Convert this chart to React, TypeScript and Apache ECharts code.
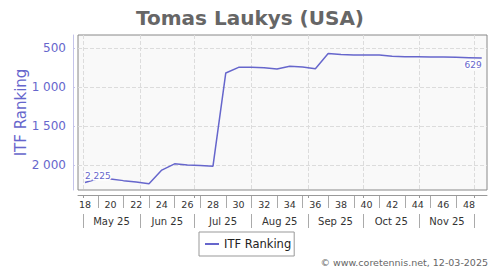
import React, { useEffect, useRef } from 'react';
import * as echarts from 'echarts';

const weeks = [18, 19, 20, 21, 22, 23, 24, 25, 26, 27, 28, 29, 30, 31, 32, 33, 34, 35, 36, 37, 38, 39, 40, 41, 42, 43, 44, 45, 46, 47, 48, 49];
const ranking = [2225, 2175, 2180, 2200, 2218, 2240, 2065, 1985, 2000, 2005, 2015, 821, 749, 749, 753, 770, 736, 744, 766, 573, 586, 590, 590, 590, 608, 612, 612, 616, 618, 621, 625, 629];
const weekLabels = [18, 20, 22, 24, 26, 28, 30, 32, 34, 36, 38, 40, 42, 44, 46, 48];
const weekSeparators = [19, 21, 23, 25, 27, 29, 31, 33, 35, 37, 39, 41, 43, 45, 47];
const monthStarts = ['2025-05-01', '2025-06-01', '2025-07-01', '2025-08-01', '2025-09-01', '2025-10-01', '2025-11-01', '2025-12-01'];
const monthLabels = ['May 25', 'Jun 25', 'Jul 25', 'Aug 25', 'Sep 25', 'Oct 25', 'Nov 25'];
const yTicks = [500, 1000, 1500, 2000];
const firstWeekDate = '2025-05-02';

const FONT = 'DejaVu Sans';
const PURPLE = '#6666cc';

const fmt = (v: number) => String(Math.round(v)).replace(/\B(?=(\d{3})+(?!\d))/g, ' ');

export default function App() {
  const ref = useRef<HTMLDivElement>(null);
  useEffect(() => {
    if (!ref.current) return;
    document.body.style.margin = '0';
    const chart = echarts.init(ref.current, undefined, { renderer: 'svg' });
    const refT = Date.parse(firstWeekDate + 'T00:00:00Z');
    const monthX = monthStarts.map((d) => weeks[0] + (Date.parse(d + 'T00:00:00Z') - refT) / (7 * 864e5));
    const monthMid = monthLabels.map((_, i) => (monthX[i] + monthX[i + 1]) / 2);
    const xMin = 17.453;
    const xMax = 49.41;
    const last = weeks.length - 1;
    const data = weeks.map((w, i) => {
      const item: any = { value: [w, ranking[i]] };
      if (i === 0) item.label = { show: true, position: 'top', align: 'left', distance: 2 };
      if (i === last) item.label = { show: true, position: 'bottom', align: 'right', distance: 3 };
      return item;
    });
    const baseX = { type: 'value', min: xMin, max: xMax, position: 'bottom', gridIndex: 0 };
    chart.setOption({
      animation: false,
      textStyle: { fontFamily: FONT },
      title: {
        text: 'Tomas Laukys (USA)',
        left: 'center',
        top: 3,
        textStyle: { fontSize: 20, fontWeight: 'bold', color: '#666', fontFamily: FONT },
      },
      grid: {
        left: 78,
        right: 13,
        top: 35,
        bottom: 80,
        show: true,
        backgroundColor: '#f9f9f9',
        borderColor: '#888',
        borderWidth: 1,
      },
      legend: {
        left: 199,
        top: 232,
        data: ['ITF Ranking'],
        icon: 'rect',
        itemWidth: 14,
        itemHeight: 2,
        itemGap: 5,
        padding: [6, 3, 6, 6],
        borderColor: '#999',
        borderWidth: 1,
        textStyle: { fontSize: 11.5, color: '#222', fontFamily: FONT },
      },
      xAxis: [
        {
          ...baseX,
          offset: 5,
          axisLine: { show: true, lineStyle: { color: '#999' } },
          axisTick: { show: true, length: 3, customValues: monthX, lineStyle: { color: '#999' } },
          axisLabel: { show: false },
          splitLine: { show: true, lineStyle: { type: 'dashed', color: '#dcdcdc' } },
        },
        {
          ...baseX,
          offset: 6,
          axisLine: { show: false },
          axisTick: { show: true, length: 12, customValues: weekSeparators, lineStyle: { color: '#aaa' } },
          axisLabel: { customValues: weekLabels, margin: 3, fontSize: 9.5, color: '#333', fontFamily: FONT, formatter: (v: number) => String(Math.round(v)) },
          splitLine: { show: false },
        },
        {
          ...baseX,
          offset: 24,
          axisLine: { show: false },
          axisTick: { show: true, length: 14, customValues: monthX, lineStyle: { color: '#aaa' } },
          axisLabel: {
            customValues: monthMid,
            margin: 2,
            fontSize: 10,
            color: '#333',
            fontFamily: FONT,
            formatter: (v: number) => {
              let best = 0;
              monthMid.forEach((m, i) => { if (Math.abs(m - v) < Math.abs(monthMid[best] - v)) best = i; });
              return monthLabels[best];
            },
          },
          splitLine: { show: false },
        },
      ],
      yAxis: {
        type: 'value',
        inverse: true,
        min: 335,
        max: 2320,
        offset: 5,
        name: 'ITF Ranking',
        nameLocation: 'middle',
        nameGap: 45,
        nameMoveOverlap: false,
        nameTextStyle: { color: PURPLE, fontSize: 15, fontFamily: FONT },
        axisLine: { show: true, lineStyle: { color: '#c4c4ea' } },
        axisTick: { show: true, inside: true, length: 2, customValues: yTicks, lineStyle: { color: '#c4c4ea' } },
        axisLabel: { customValues: yTicks, formatter: fmt, color: PURPLE, fontSize: 12, margin: 7, fontFamily: FONT },
        splitLine: { show: true, lineStyle: { type: 'dashed', color: '#dcdcdc' } },
      },
      graphic: [
        {
          type: 'text',
          right: 12,
          top: 257,
          style: { text: '© www.coretennis.net, 12-03-2025', fontSize: 9.5, fill: '#666', fontFamily: FONT },
        },
      ],
      series: [
        {
          name: 'ITF Ranking',
          type: 'line',
          xAxisIndex: 0,
          yAxisIndex: 0,
          data,
          symbol: 'circle',
          symbolSize: 0,
          showSymbol: true,
          silent: true,
          color: PURPLE,
          lineStyle: { color: PURPLE, width: 1.5 },
          itemStyle: { color: PURPLE },
          emphasis: { disabled: true },
          label: {
            show: false,
            fontSize: 9,
            color: PURPLE,
            fontFamily: FONT,
            textBorderColor: '#fff',
            textBorderWidth: 3,
            formatter: (p: any) => fmt(p.value[1]),
          },
        },
      ],
    });
    return () => chart.dispose();
  }, []);
  return <div ref={ref} style={{ width: 500, height: 270 }} />;
}
